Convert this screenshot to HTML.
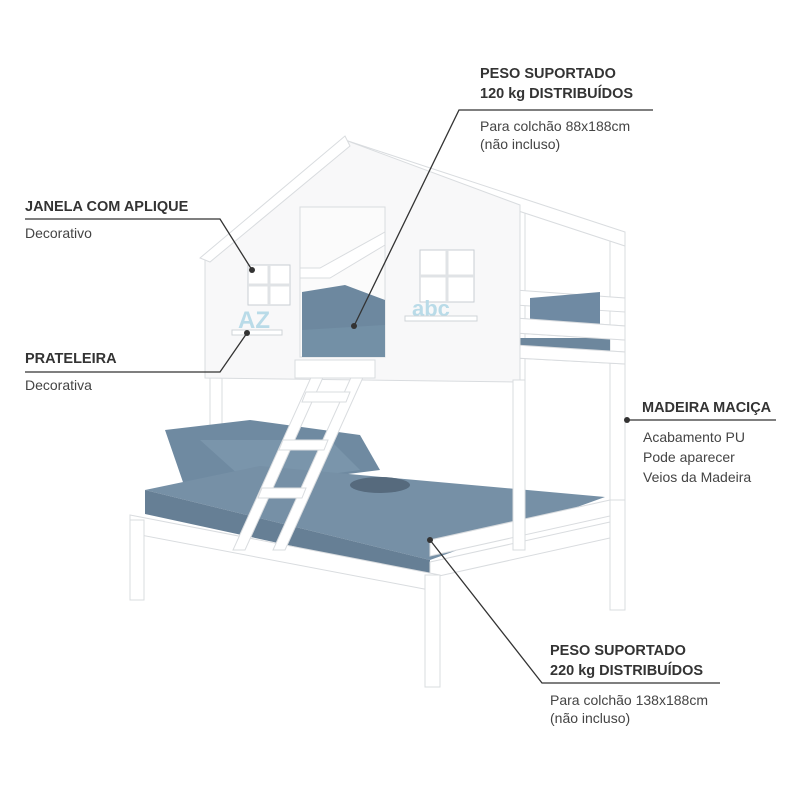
<!DOCTYPE html>
<html><head><meta charset="utf-8"><style>
html,body{margin:0;padding:0;background:#fff;}
svg{display:block;}
text{font-family:"Liberation Sans",Arial,sans-serif;}
.b{font-weight:bold;font-size:14.5px;fill:#333;}
.r{font-size:14px;fill:#444;}
</style></head><body>
<svg width="800" height="800" viewBox="0 0 800 800" xmlns="http://www.w3.org/2000/svg">
<g stroke="#d9dcdf" stroke-width="1" fill="#fff">
<rect x="610" y="238" width="15" height="372"/>
<rect x="513" y="205" width="12" height="340"/>
<rect x="210" y="255" width="12" height="250"/>
<polygon points="515,290 625,298 625,312 515,305"/>
<polygon points="515,318 625,326 625,340 515,333"/>
<polygon points="515,345 625,352 625,364 515,358"/>
<polygon points="345,140 625,232 625,246 345,154"/>
</g>
<polygon points="530,298 600,292 600,330 530,325" fill="#6f8aa3"/>
<rect x="520" y="338" width="90" height="18" fill="#6d879d"/>
<g stroke="#d9dcdf" stroke-width="1" fill="#fff">
<polygon points="515,345 625,352 625,364 515,358"/>
<polygon points="515,318 625,326 625,340 515,333"/>
<polygon points="205,255 345,140 520,205 520,382 205,378" fill="#f8f8f9"/>
<polygon points="200,258 345,136 350,146 210,262" />
</g>
<rect x="300" y="207" width="85" height="150" fill="#fbfbfb" stroke="#d9dcdf"/>
<polygon points="302,292 345,285 385,300 385,357 302,357" fill="#6d889f"/>
<polygon points="302,330 385,325 385,357 302,357" fill="#7390a6"/>
<polygon points="300,268 320,268 385,232 385,245 330,278 300,278" fill="#fff" stroke="#d9dcdf"/>
<g fill="#fff" stroke="#c9ced3">
<rect x="248" y="265" width="42" height="40"/>
<rect x="420" y="250" width="54" height="52"/>
</g>
<g stroke="#e0e3e6" stroke-width="3">
<line x1="269" y1="265" x2="269" y2="305"/><line x1="248" y1="285" x2="290" y2="285"/>
<line x1="447" y1="250" x2="447" y2="302"/><line x1="420" y1="276" x2="474" y2="276"/>
</g>
<text x="238" y="328" font-size="24" fill="#b9dbe8" font-weight="bold">AZ</text>
<text x="412" y="316" font-size="22" fill="#b9dbe8" font-weight="bold">abc</text>
<rect x="232" y="330" width="50" height="5" fill="#fff" stroke="#cfd4d8"/>
<rect x="405" y="316" width="72" height="5" fill="#fff" stroke="#cfd4d8"/>
<polygon points="165,430 250,420 360,435 380,470 300,480 185,488" fill="#6f8aa1"/>
<polygon points="200,440 330,440 360,470 250,485" fill="#7a95ab"/>
<polygon points="145,490 260,466 605,497 430,560" fill="#7690a6"/>
<polygon points="145,490 430,560 430,576 145,514" fill="#667f95"/>
<ellipse cx="380" cy="485" rx="30" ry="8" fill="#566a7d"/>
<g stroke="#d9dcdf" stroke-width="1" fill="#fff">
<polygon points="430,540 610,500 610,516 430,556"/>
<polygon points="430,562 610,522 610,538 430,578"/>
<polygon points="130,515 440,575 440,592 130,533"/>
<rect x="130" y="520" width="14" height="80"/>
<rect x="425" y="575" width="15" height="112"/>
<rect x="610" y="500" width="15" height="110"/>
<rect x="513" y="380" width="12" height="170"/>
<polygon points="318,362 330,362 245,550 233,550"/>
<polygon points="358,362 370,362 285,550 273,550"/>
<polygon points="306,392 350,392 346,402 302,402"/>
<polygon points="283,440 328,440 324,450 279,450"/>
<polygon points="262,488 306,488 302,498 258,498"/>
<rect x="295" y="360" width="80" height="18"/>
</g>
<g stroke="#333" stroke-width="1.3" fill="none">
<polyline points="25,219 220,219 252,270"/>
<polyline points="25,372 220,372 247,333"/>
<polyline points="653,110 459,110 354,326"/>
<polyline points="776,420 627,420"/>
<polyline points="720,683 542,683 430,540"/>
</g>
<g fill="#333">
<circle cx="252" cy="270" r="3"/><circle cx="247" cy="333" r="3"/>
<circle cx="354" cy="326" r="3"/><circle cx="627" cy="420" r="3"/><circle cx="430" cy="540" r="3"/>
</g>
<text class="b" x="480" y="78">PESO SUPORTADO</text>
<text class="b" x="480" y="98">120 kg DISTRIBUÍDOS</text>
<text class="r" x="480" y="131">Para colchão 88x188cm</text>
<text class="r" x="480" y="149">(não incluso)</text>
<text class="b" x="25" y="211">JANELA COM APLIQUE</text>
<text class="r" x="25" y="238">Decorativo</text>
<text class="b" x="25" y="363">PRATELEIRA</text>
<text class="r" x="25" y="390">Decorativa</text>
<text class="b" x="642" y="412">MADEIRA MACIÇA</text>
<text class="r" x="643" y="442">Acabamento PU</text>
<text class="r" x="643" y="462">Pode aparecer</text>
<text class="r" x="643" y="482">Veios da Madeira</text>
<text class="b" x="550" y="655">PESO SUPORTADO</text>
<text class="b" x="550" y="675">220 kg DISTRIBUÍDOS</text>
<text class="r" x="550" y="705">Para colchão 138x188cm</text>
<text class="r" x="550" y="723">(não incluso)</text>
</svg>
</body></html>
